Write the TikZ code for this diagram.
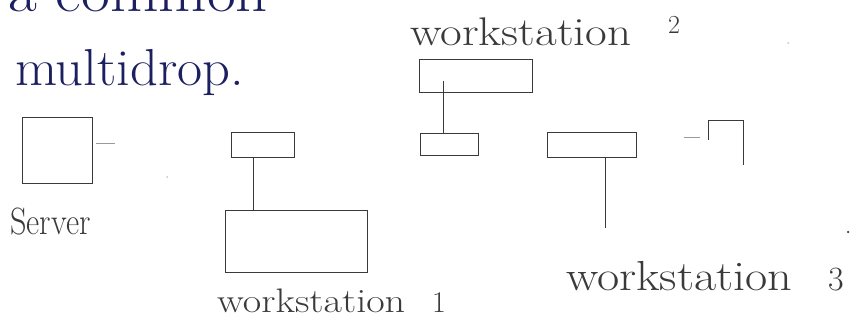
\documentclass[tikz,border=0pt]{standalone}
\usetikzlibrary{calc}
\definecolor{ink}{HTML}{1C2060}
\definecolor{pen}{HTML}{3A3A3A}
\definecolor{faint}{HTML}{9A9A9A}
\tikzset{
  box/.style={draw=pen, line width=0.9pt, inner sep=0pt},
  wire/.style={draw=pen, line width=0.9pt},
  faintwire/.style={draw=faint, line width=0.7pt},
  label/.style={text=pen, inner sep=0pt},
  inktext/.style={text=ink, inner sep=0pt},
  dot/.style={circle, fill=pen, inner sep=0pt, minimum size=2.5pt}
}
\newcommand{\fs}[1]{\fontsize{#1}{#1}\selectfont}
\newcommand{\wide}[2]{\scalebox{#1}[1]{#2}}
\begin{document}
\begin{tikzpicture}[x=1pt,y=-1pt]
\useasboundingbox (0,0) rectangle (854,323);
% handwritten header
\node[inktext, anchor=base west, font=\fs{56}] (hdr) at (8,12) {\wide{1.12}{a common}};
\node[inktext, anchor=base west, font=\fs{52}] (md) at (15,86) {\wide{1.05}{multidrop.}};
% server
\node[box, minimum width=70pt, minimum height=66pt] (server) at (57,150) {};
\coordinate (sdash) at (115,143);
\draw[faintwire] (server.east |- sdash) ++(4,0) -- (sdash);
\node[label, anchor=base west, font=\fs{38}] (serverlbl) at (10,234) {\wide{0.85}{Server}};
% box A and workstation 1
\node[box, minimum width=63pt, minimum height=25pt] (boxa) at (263,145) {};
\node[box, minimum width=142pt, minimum height=62pt] (ws1) at (296,241) {};
\draw[wire] ([xshift=-10pt]boxa.south) -- ([xshift=-10pt]boxa.south |- ws1.north);
\node[label, anchor=base west, font=\fs{34}] (ws1lbl) at (217,312) {\wide{1.18}{workstation}};
\node[label, anchor=base west, font=\fs{30}] (ws1num) at (432,312) {1};
% workstation 2
\node[box, minimum width=113pt, minimum height=33pt] (ws2) at (476,76) {};
\node[box, minimum width=58pt, minimum height=22pt] (sb2) at (449,144) {};
\draw[wire] ([xshift=-6pt]sb2.north) -- ([xshift=-6pt,yshift=12pt]sb2.north |- ws2.south);
\node[label, anchor=base west, font=\fs{40}] (ws2lbl) at (410,46) {\wide{1.18}{workstation}};
\node[label, anchor=base west, font=\fs{26}] (ws2num) at (668,34) {2};
% workstation 3
\node[box, minimum width=89pt, minimum height=25pt] (boxc) at (592,145) {};
\coordinate (c3) at (605,228);
\draw[wire] (boxc.south -| c3) -- (c3);
\node[label, anchor=base west, font=\fs{42}] (ws3lbl) at (566,290) {\wide{1.15}{workstation}};
\node[label, anchor=base west, font=\fs{34}] (ws3num) at (828,290) {3};
% partial box at right
\coordinate (pb1) at (708,140);
\coordinate (pb2) at (743,165);
\draw[wire] (pb1) -- (pb1 |- 0,120) -- (pb2 |- 0,120) -- (pb2);
\coordinate (pdash) at (700,137);
\draw[faintwire] (pdash) -- ++(-16,0);
% stray dots
\node[dot] (d1) at (848,232) {};
\node[dot, minimum size=1.5pt, fill=faint] (d2) at (788,43) {};
\node[dot, minimum size=1.5pt, fill=faint] (d3) at (167,177) {};
\end{tikzpicture}
\end{document}
